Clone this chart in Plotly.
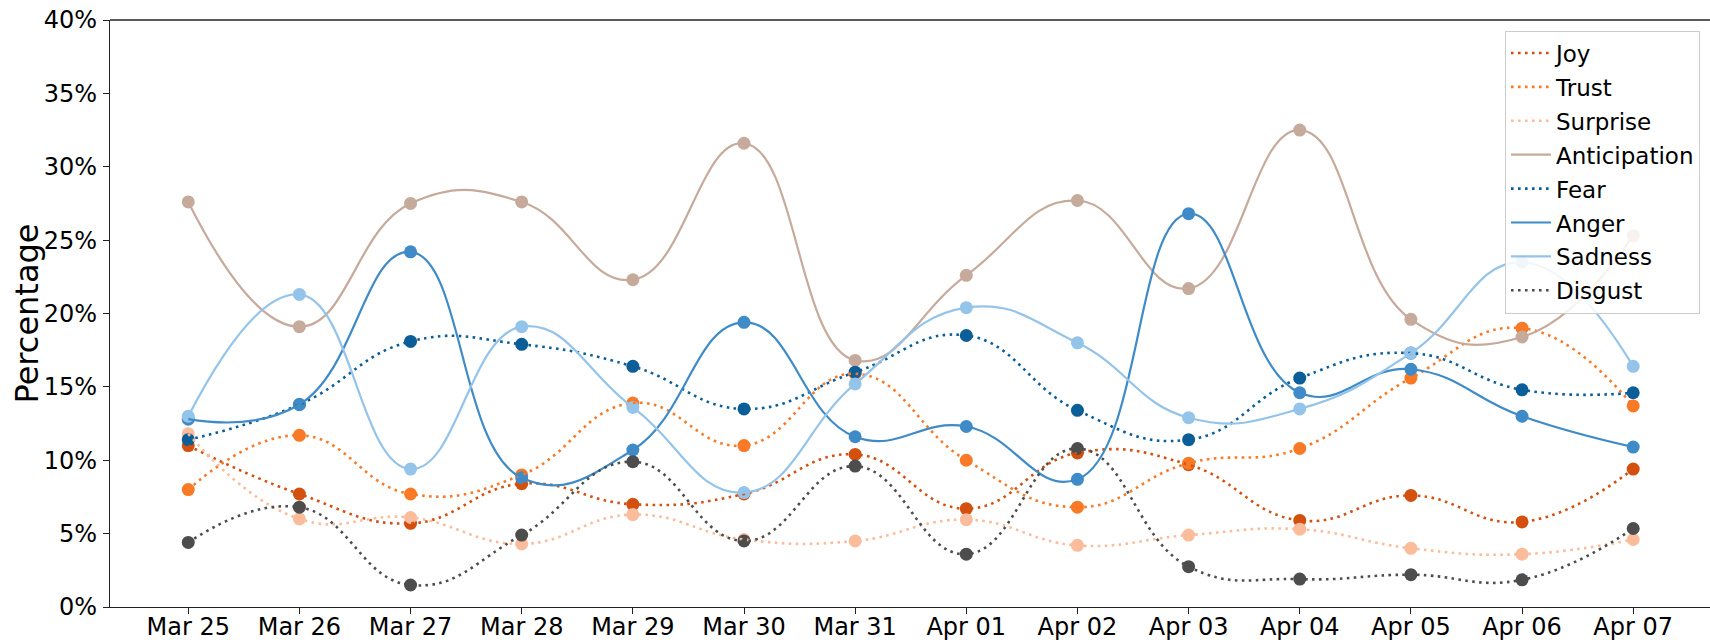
import plotly.graph_objects as go

dates = ["Mar 25", "Mar 26", "Mar 27", "Mar 28", "Mar 29", "Mar 30", "Mar 31",
         "Apr 01", "Apr 02", "Apr 03", "Apr 04", "Apr 05", "Apr 06", "Apr 07"]

joy = [11.0, 7.7, 5.7, 8.4, 7.0, 7.7, 10.4, 6.7, 10.5, 9.7, 5.9, 7.6, 5.8, 9.4]
trust = [8.0, 11.7, 7.7, 9.0, 13.9, 11.0, 15.9, 10.0, 6.8, 9.8, 10.8, 15.6, 19.0, 13.7]
surprise = [11.8, 6.0, 6.1, 4.3, 6.3, 4.6, 4.5, 5.95, 4.2, 4.9, 5.3, 4.0, 3.6, 4.6]
anticipation = [27.6, 19.1, 27.5, 27.6, 22.3, 31.6, 16.8, 22.6, 27.7, 21.7, 32.5, 19.6, 18.4, 25.3]
fear = [11.4, 13.8, 18.1, 17.9, 16.4, 13.5, 16.0, 18.5, 13.4, 11.4, 15.6, 17.3, 14.8, 14.6]
anger = [12.8, 13.8, 24.2, 8.8, 10.7, 19.4, 11.6, 12.3, 8.7, 26.8, 14.6, 16.2, 13.0, 10.9]
sadness = [13.0, 21.3, 9.4, 19.1, 13.6, 7.8, 15.2, 20.4, 18.0, 12.9, 13.5, 17.3, 23.5, 16.4]
disgust = [4.4, 6.8, 1.5, 4.9, 9.9, 4.5, 9.6, 3.6, 10.8, 2.75, 1.9, 2.2, 1.85, 5.35]

names = ["Joy", "Trust", "Surprise", "Anticipation", "Fear", "Anger", "Sadness", "Disgust"]
series = [joy, trust, surprise, anticipation, fear, anger, sadness, disgust]
colors = ["#d4500f", "#f97a26", "#fbbc9c", "#c6aa9b", "#0b5e98", "#3f8bc8", "#95c4ea", "#4d4d4d"]
dotted = [True, True, True, False, True, False, False, True]

ytick_vals = [0, 5, 10, 15, 20, 25, 30, 35, 40]
ytick_text = ["0%", "5%", "10%", "15%", "20%", "25%", "30%", "35%", "40%"]
y_title = "Percentage"

fig = go.Figure()

# markers (drawn beneath lines, as in the original)
for name, vals, col in zip(names, series, colors):
    fig.add_trace(go.Scatter(
        x=dates, y=vals, mode="markers", showlegend=False,
        marker=dict(color=col, size=13, line=dict(width=0)),
        hoverinfo="skip"))

# smooth lines
for name, vals, col, dt in zip(names, series, colors, dotted):
    fig.add_trace(go.Scatter(
        x=dates, y=vals, mode="lines", name=name, legendgroup=name,
        line=dict(color=col, width=2.6 if dt else 2.2, shape="spline", smoothing=1.3,
                  dash="2.6px,4.4px" if dt else "solid")))

fig.update_layout(
    width=1710, height=642,
    margin=dict(l=110, r=0, t=20, b=35, autoexpand=False),
    paper_bgcolor="white", plot_bgcolor="white",
    font=dict(family="DejaVu Sans", size=24, color="#000"),
    showlegend=True,
    legend=dict(
        x=0.99375, xanchor="right", y=0.982, yanchor="top",
        bgcolor="rgba(255,255,255,0.85)", bordercolor="#cccccc", borderwidth=1,
        font=dict(family="DejaVu Sans", size=23, color="#000"),
        traceorder="grouped", tracegroupgap=1, itemwidth=40,
    ),
    xaxis=dict(
        type="category", range=[-0.704, 13.691], automargin=False,
        showline=True, linecolor="#222", linewidth=1.4, mirror=False,
        ticks="outside", ticklen=6, tickwidth=1.2, tickcolor="#222",
        showgrid=False, zeroline=False, ticklabelstandoff=-8,
        tickfont=dict(family="DejaVu Sans", size=24, color="#000"),
    ),
    yaxis=dict(
        range=[0, 40], tickvals=ytick_vals, ticktext=ytick_text, automargin=False,
        showline=True, linecolor="#222", linewidth=1.4,
        ticks="outside", ticklen=6, tickwidth=1.2, tickcolor="#222",
        showgrid=False, zeroline=False, ticklabelstandoff=1,
        tickfont=dict(family="DejaVu Sans", size=24, color="#000"),
    ),
    annotations=[dict(text=y_title, textangle=-90, xref="paper", yref="paper",
                      x=-0.0525, y=0.5, xanchor="center", yanchor="middle",
                      showarrow=False,
                      font=dict(family="DejaVu Sans", size=32, color="#000"))],
    shapes=[dict(type="line", xref="paper", yref="paper", x0=0, x1=1, y0=1, y1=1,
                 line=dict(color="#222", width=1.4))],
)

fig.write_html("out.html", config={"displayModeBar": False},
               post_script="document.body.style.margin='0';document.body.style.overflow='hidden';")
